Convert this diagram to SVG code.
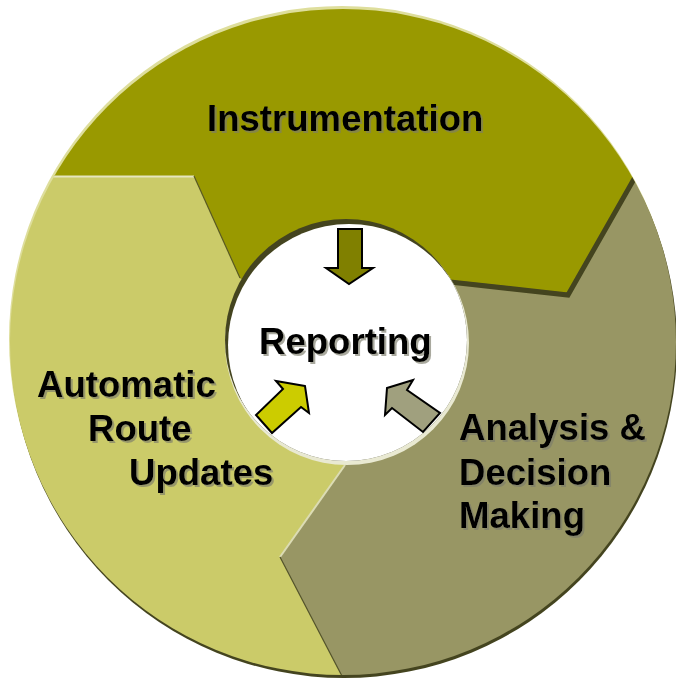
<svg xmlns="http://www.w3.org/2000/svg" width="676" height="678" viewBox="0 0 676 678">
  <defs>
    <style>
      .lbl { font-family: "Liberation Sans", Arial, sans-serif; font-weight: bold; font-size: 36.6px; fill: #000; }
      .arrow { stroke: #000; stroke-width: 2; stroke-linejoin: miter; }
    </style>
    <clipPath id="outerClip"><circle cx="343" cy="342" r="333"/></clipPath>
    <clipPath id="holeClip"><circle cx="346" cy="340" r="121"/></clipPath>
    <filter id="shadow" x="-10%" y="-20%" width="130%" height="150%">
      <feDropShadow dx="2" dy="2" stdDeviation="0.6" flood-color="#7a7a6a" flood-opacity="0.65"/>
    </filter>
  </defs>

  <!-- outer rim highlight / shadow -->
  <circle cx="342" cy="339" r="333" fill="#dede9c"/>
  <circle cx="344" cy="345" r="333" fill="#44441f"/>

  <g clip-path="url(#outerClip)">
    <g id="seg-instrumentation">
      <polygon points="0,0 676,0 676,102 636,173 568,293 450,280 346,340 240,278 194,176 0,176" fill="#999900"/>
    </g>
    <g id="seg-automatic">
      <polygon points="0,176 194,176 240,278 346,340 345,465 280,557 343,678 0,678" fill="#cbcb69"/>
      <polyline points="0,176.5 194,176.5" fill="none" stroke="#e6e6bf" stroke-width="2"/>
    </g>
    <g id="seg-analysis">
      <polygon points="346,340 450,280 568,293 676,102 676,678 343,678 280,557 345,465" fill="#989664"/>
      <polyline points="450,282 568,295 638,172" fill="none" stroke="#44441f" stroke-width="5"/>
      <polyline points="345,465 280,557" fill="none" stroke="#dcdcb4" stroke-width="2"/>
      <polyline points="280,557 343,678" fill="none" stroke="#55552c" stroke-width="1.2"/>
    </g>
    <polyline points="194,176 240,278" fill="none" stroke="#5a5a22" stroke-width="1.2"/>
  </g>
  <!-- bottom outer shadow edge -->
  <path d="M 40,500 A 333 333 0 0 0 676,470" fill="none" stroke="#44441f" stroke-width="3" clip-path="url(#outerClip)" opacity="0.9"/>

  <!-- center hole -->
  <g id="reporting">
    <circle cx="347" cy="343" r="122" fill="#e9e9d2"/>
    <circle cx="346" cy="340" r="121" fill="#44441f"/>
    <circle cx="349" cy="345" r="121" fill="#ffffff" clip-path="url(#holeClip)"/>
    <text class="lbl" x="259" y="354" filter="url(#shadow)">Reporting</text>
  </g>

  <!-- arrows -->
  <g id="connectors">
    <polygon class="arrow" fill="#808000" points="338,229 362,229 362,268 373,268 349,284 326,268 338,268"/>
    <polygon class="arrow" fill="#cccc00" points="305,386 276,381 283,389 256,415 272,433 301,407 309,413"/>
    <polygon class="arrow" fill="#a0a07e" points="387,388 413,380 407,390 440,413 423,432 392,408 385,415"/>
  </g>

  <g id="instrumentation">
    <text class="lbl" x="207" y="131" filter="url(#shadow)">Instrumentation</text>
  </g>
  <g id="automatic">
    <text class="lbl" filter="url(#shadow)"><tspan x="37" y="397">Automatic</tspan><tspan x="88" y="441">Route</tspan><tspan x="129" y="485">Updates</tspan></text>
  </g>
  <g id="analysis">
    <text class="lbl" filter="url(#shadow)"><tspan x="459" y="440">Analysis &amp;</tspan><tspan x="459" y="485">Decision</tspan><tspan x="459" y="528">Making</tspan></text>
  </g>
</svg>
